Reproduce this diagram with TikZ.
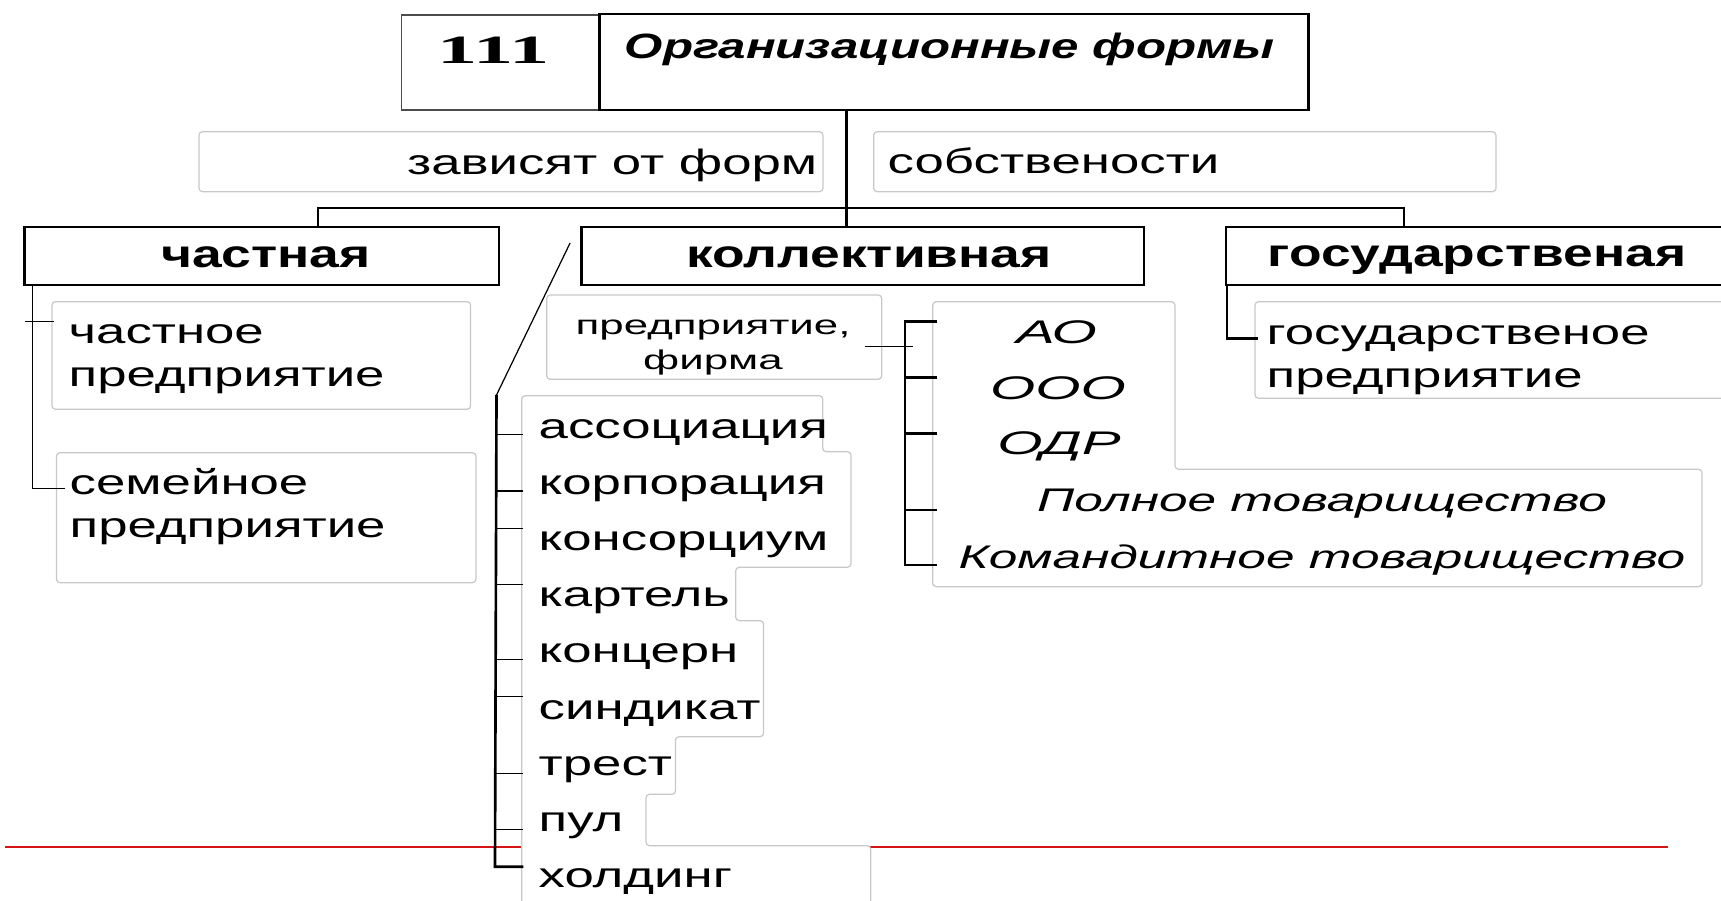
\documentclass[tikz,border=0pt]{standalone}
\usepackage{fontspec}
\setmainfont{Liberation Sans}
\newfontfamily\itemfont[FakeStretch=1.5]{Liberation Sans}
\newfontfamily\headfont[FakeStretch=1.38]{Liberation Sans}
\newfontfamily\firmfont[FakeStretch=1.62]{Liberation Sans}
\newfontfamily\formfont[FakeStretch=1.78]{Liberation Sans}
\newfontfamily\longformfont[FakeStretch=1.57]{Liberation Sans}
\newfontfamily\titlefont[FakeStretch=1.4]{Liberation Sans}
\newfontfamily\numfont[FakeStretch=2]{Liberation Serif}
\usetikzlibrary{positioning}
\usetikzlibrary{calc}
\usetikzlibrary{fit}
\definecolor{framegray}{RGB}{200,200,200}
\definecolor{slidered}{RGB}{214,20,20}

\begin{document}
\begin{tikzpicture}[
x=0.01cm, y=-0.01cm,
headbox/.style={draw, line width=0.8pt, inner sep=0pt},
headtext/.style={inner sep=0pt, anchor=base, font=\headfont\bfseries\fontsize{11}{13}\selectfont},
numbox/.style={draw=black!70, line width=0.45pt, inner sep=0pt},
orgbox/.style={draw, line width=0.8pt, inner sep=0pt},
framebox/.style={draw=framegray, line width=0.35pt, fill=white, rounded corners=1pt, inner sep=0pt},
itemtext/.style={inner sep=0pt, anchor=base west, align=left, font=\itemfont\fontsize{10}{12.3}\selectfont},
firmtext/.style={inner sep=0pt, anchor=base, align=center, font=\firmfont\fontsize{7.7}{10.2}\selectfont},
formtext/.style={inner sep=0pt, anchor=base, font=\formfont\itshape\fontsize{9.3}{11}\selectfont},
longformtext/.style={formtext, font=\longformfont\itshape\fontsize{9.3}{11}\selectfont},
midline/.style={line width=0.75pt},
thinline/.style={line width=0.35pt}
]
\useasboundingbox (0,0) rectangle (1721,901);
\clip (0,0) rectangle (1721,901);

%Red rule
\draw[slidered, line width=0.55pt] (5,846.7) -- (1668,846.7);

%Boxes
\node[numbox, fit={(401.5,15) (599.6,110)}] (numbox) {};
\node[orgbox, fit={(599.6,14) (1308.7,110)}] (orgbox) {};
\node[framebox, fit={(199,131.7) (823,191.7)}] (dependframe) {};
\node[framebox, fit={(873.7,131.7) (1496,191.7)}] (ownframe) {};
\node[headbox, fit={(24.7,227) (499,285)}] (chastnaya) {};
\node[headbox, fit={(581.5,227) (1144,285)}] (kollekt) {};
\node[headbox, fit={(1226,227) (1746,285)}] (gosud) {};
\node[framebox, fit={(52,301.7) (470.6,409.3)}] (privframe) {};
\node[framebox, fit={(56.5,452.7) (476,582.7)}] (famframe) {};
\node[framebox, fit={(546.7,295) (881.7,379.3)}] (firmframe) {};
\node[framebox, fit={(1255,301.7) (1745,398.3)}] (gospframe) {};
\draw[framebox] (932.7,586.7) |- (1175,301.7) |- (1702,469.3) |- cycle;
\draw[framebox] (521.7,920) |- (822.7,395.7) |- (851,451.7) |- (735.7,567.3) |- (763.6,620.7)
  |- (675.5,736.7) |- (646,794.3) |- (870.7,845.7) -- (870.7,920);

%Texts
\node[inner sep=0pt, anchor=base west, font=\numfont\bfseries\fontsize{11.4}{13}\selectfont] (num) at (437,63.3) {111};
\node[inner sep=0pt, anchor=base west, font=\titlefont\bfseries\itshape\fontsize{10}{12}\selectfont] (title) at (624,58.3) {Организационные формы};
\node[headtext] (chastnayatext) at (266,268) {частная};
\node[headtext] (kollekttext) at (869,268) {коллективная};
\node[headtext, anchor=base west] (gosudtext) at (1267,267) {государственая};
\node[itemtext, anchor=base east] (depend) at (818,175) {зависят от форм};
\node[itemtext] (own) at (887,174) {собствености};
\node[itemtext] (chastnoe) at (68,386.7) {частное\\предприятие};
\node[itemtext] (semeynoe) at (69,538) {семейное\\предприятие};
\node[itemtext] (gospred) at (1266,388) {государственое\\предприятие};
\node[firmtext] (firm) at (713,370) {предприятие,\\фирма};
\node[itemtext] (assoc) at (538,438.3) {ассоциация};
\node[itemtext] (corp) at (538,494.5) {корпорация};
\node[itemtext] (consort) at (538,551) {консорциум};
\node[itemtext] (cartel) at (538,607) {картель};
\node[itemtext] (concern) at (538,663) {концерн};
\node[itemtext] (syndic) at (538,719.5) {синдикат};
\node[itemtext] (trust) at (538,776) {трест};
\node[itemtext] (pool) at (538,832) {пул};
\node[itemtext] (holding) at (538,888) {холдинг};
\node[formtext] (ao) at (1056.5,343.3) {АО};
\node[formtext] (ooo) at (1058,400) {ООО};
\node[formtext] (odr) at (1059,455) {ОДР};
\node[longformtext] (full) at (1322,511.7) {Полное товарищество};
\node[longformtext] (limited) at (1322,568.3) {Командитное товарищество};

%Coordinates
\coordinate (trunk) at (846.4,110);
\coordinate (barL) at (318,208);
\coordinate (barR) at (1404,208);
\coordinate (privtop) at ($(chastnaya.south west)+(9,0)$);
\coordinate (privtick) at (25,321.7);
\coordinate (famtick) at (65,488.3);
\coordinate (diagtop) at ($(kollekt.west)+(-10,-13)$);
\coordinate (listtop) at (496.5,395);
\coordinate (listbot) at (495,866.7);
\coordinate (listedge) at (523.3,395.7);
\coordinate (t1) at (495,434.3);
\coordinate (t2) at (495,491);
\coordinate (t3) at (495,528.3);
\coordinate (t4) at (495,584.3);
\coordinate (t5) at (495,659.3);
\coordinate (t6) at (495,696.7);
\coordinate (t7) at (495,773.3);
\coordinate (t8) at (495,829.3);
\coordinate (firmout) at (865,346.7);
\coordinate (firmin) at (913,346.7);
\coordinate (brtop) at (905,321.7);
\coordinate (brbot) at (905,565);
\coordinate (formedge) at (936.7,301.7);
\coordinate (b1) at (905,377.3);
\coordinate (b2) at (905,433.3);
\coordinate (b3) at (905,510);
\coordinate (gostop) at ($(gosud.south west)+(2.5,0)$);
\coordinate (gostick) at (1258,338.3);

%Lines
\draw[midline] (trunk) -- (trunk |- kollekt.north);
\draw[midline] (chastnaya.north -| barL) |- (barR) -- (barR |- gosud.north);
\draw[thinline] (privtop) |- (famtick);
\draw[thinline] (privtick) -- ($(privtick -| privframe.west)+(3,0)$);
\draw[thinline] (diagtop) -- (listtop);
\draw[midline] (listtop) -- (listbot) -- (listbot -| listedge);
\draw[thinline] (t1) -- (t1 -| listedge);
\draw[thinline] (t2) -- (t2 -| listedge);
\draw[thinline] (t3) -- (t3 -| listedge);
\draw[thinline] (t4) -- (t4 -| listedge);
\draw[thinline] (t5) -- (t5 -| listedge);
\draw[thinline] (t6) -- (t6 -| listedge);
\draw[thinline] (t7) -- (t7 -| listedge);
\draw[thinline] (t8) -- (t8 -| listedge);
\draw[thinline] (firmout) -- (firmin);
\draw[midline] (brtop -| formedge) -- (brtop) -- (brbot) -- (brbot -| formedge);
\draw[midline] (b1) -- (b1 -| formedge);
\draw[midline] (b2) -- (b2 -| formedge);
\draw[midline] (b3) -- (b3 -| formedge);
\draw[midline] (gostop) |- (gostick);

\end{tikzpicture}
\end{document}
